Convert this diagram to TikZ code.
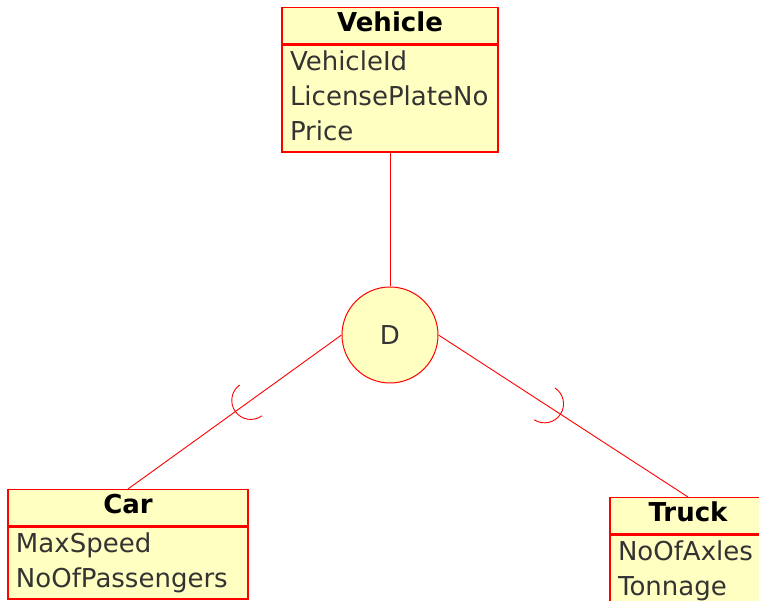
\documentclass[tikz,border=0pt]{standalone}
\usepackage{fontspec}
\setmainfont{DejaVu Sans}
\usetikzlibrary{positioning,calc}
\definecolor{amarelo}{RGB}{255,255,194}
\definecolor{texto}{RGB}{51,51,51}
\begin{document}
\begin{tikzpicture}[
  x=1pt, y=1pt,
  every node/.style={draw=red, fill=amarelo, line width=1.3pt, text=texto, font=\fontsize{26}{35}\selectfont}
]
\tikzset{
  cabecalho/.style={font=\fontsize{26}{35}\selectfont\bfseries, text=black, minimum height=36pt, inner ysep=0pt, text height=20pt, text depth=8pt, anchor=north},
  atributos/.style={align=left, inner xsep=8pt, inner ysep=0pt},
  disjuncao/.style={circle, minimum size=96pt, inner sep=0pt, line width=1pt},
  ligacao/.style={draw=red, line width=0.9pt}
}
\useasboundingbox (0,0) rectangle (759,601);
\node[cabecalho, minimum width=216pt] (vehicle) at (390,594) {Vehicle};
\node[atributos, text width=200pt, minimum height=107pt, below=0pt of vehicle] (vehicleattr) {\strut VehicleId\\LicensePlateNo\\Price\strut};
\node[disjuncao] (d) at (390,266) {D};
\node[cabecalho, minimum width=240pt] (car) at (128,112) {Car};
\node[atributos, text width=224pt, minimum height=72pt, below=0pt of car] (carattr) {\strut MaxSpeed\\NoOfPassengers\strut};
\node[cabecalho, minimum width=156pt] (truck) at (688,104) {Truck};
\node[atributos, text width=140pt, minimum height=72pt, below=0pt of truck] (truckattr) {\strut NoOfAxles\\Tonnage\strut};
\draw[ligacao] (vehicleattr.south) -- (d.north);
\draw[ligacao] (d.west) -- (car.north);
\draw[ligacao] (d.east) -- (truck.north);
% subconjuntos
\coordinate (scar) at ($(d.west)!0.425!(car.north)$);
\coordinate (struck) at ($(d.east)!0.425!(truck.north)$);
\draw[ligacao] let \p1=($(car.north)-(d.west)$), \n1={atan2(\y1,\x1)} in
  ($(scar)+(\n1-90:19pt)$) arc[start angle=\n1-90, end angle=\n1+90, radius=19pt];
\draw[ligacao] let \p1=($(truck.north)-(d.east)$), \n1={atan2(\y1,\x1)} in
  ($(struck)+(\n1-90:19pt)$) arc[start angle=\n1-90, end angle=\n1+90, radius=19pt];
\end{tikzpicture}
\end{document}
